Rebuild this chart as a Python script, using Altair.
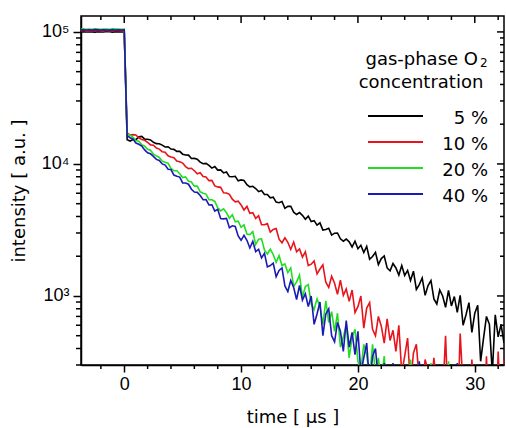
import altair as alt
import pandas as pd

# ---------------- data ----------------
SERIES = ["5 %", "10 %", "20 %", "40 %"]
COLORS = ["#000000", "#e8141c", "#22dd22", "#1a1ab4"]

T_START = -3.75   # first sample time (µs)
STEP = 0.25       # sampling step (µs)

# plateau before the pulse end (t = -3.75 ... 0.0)
PLATEAU_5 = [100000, 100500, 99800, 100300, 100100, 99600, 100400, 100000,
             99900, 100600, 100200, 99700, 100300, 100000, 100200, 99900]
PLATEAU_10 = [102000, 102400, 101800, 102300, 101900, 102500, 102100, 101800,
              102300, 102000, 101700, 102400, 102000, 102200, 101900, 102100]
PLATEAU_20 = [105000, 105400, 104800, 105300, 104900, 105500, 105100, 104800,
              105300, 105000, 104700, 105400, 105000, 105200, 104900, 105100]
PLATEAU_40 = [103500, 103900, 103300, 103800, 103400, 104000, 103600, 103300,
              103800, 103500, 103200, 103900, 103500, 103700, 103400, 103600]

# decay (t = 0.25 ... 32.5)
DECAY_5 = [
    15240, 14910, 15330, 15290, 16050, 16150, 15400, 15370,
    15210, 14590, 14250, 14240, 13880, 13440, 13500, 12970,
    12900, 12450, 12450, 11860, 11700, 11660, 10990, 11010,
    10880, 10320, 10040, 10100, 9760, 9300, 9560, 8980,
    9010, 8550, 8690, 8020, 8000, 8060, 7450, 7570,
    7490, 6960, 6710, 6770, 6510, 6170, 6300, 5880,
    5870, 5540, 5600, 5140, 5090, 5190, 4610, 4770,
    4780, 4310, 4140, 4280, 4080, 3810, 4020, 3660,
    3720, 3440, 3580, 3160, 3190, 3260, 2890, 2990,
    3000, 2710, 2600, 2700, 2570, 2350, 2600, 2280,
    2420, 2130, 2370, 1900, 1990, 2140, 1730, 1920,
    2010, 1630, 1550, 1760, 1630, 1440, 1700, 1430,
    1560, 1310, 1540, 1120, 1220, 1370, 1010, 1200,
    1310, 950, 870, 1110, 1000, 820, 1100, 840,
    990, 750, 1010, 600, 720, 890, 530, 740,
    850, 320, 480, 700, 610, 260, 720, 490,
    610, 440]
DECAY_10 = [
    17200, 16550, 16670, 16590, 15790, 15300, 15110, 14540,
    13950, 13880, 13190, 12950, 12380, 12260, 11540, 11300,
    11130, 10520, 10400, 10160, 9550, 9210, 9280, 8880,
    8420, 8590, 8020, 7970, 7470, 7510, 6820, 6700,
    6650, 6050, 6030, 5880, 5410, 5170, 5230, 4890,
    4480, 4770, 4230, 4280, 3870, 4050, 3460, 3460,
    3530, 3050, 3190, 3240, 2690, 2530, 2760, 2550,
    2250, 2560, 2160, 2270, 1970, 2160, 1700, 1740,
    1840, 1470, 1600, 1720, 1270, 1160, 1410, 1250,
    1030, 1320, 1010, 1130, 910, 1110, 750, 830,
    1000, 570, 810, 890, 560, 500, 700, 590,
    440, 670, 460, 550, 380, 600, 260, 350,
    480, 210, 370, 430, 230, 200, 330, 270,
    180, 340, 200, 270, 170, 500, 120, 165,
    230, 100, 520, 200, 110, 95, 330, 130,
    90, 160, 100, 350, 85, 140, 60, 380,
    120, 330]
DECAY_20 = [
    16800, 16560, 15890, 15040, 14840, 13980, 13620, 12890,
    12690, 11860, 11520, 11200, 10500, 10310, 10120, 9270,
    8870, 8880, 8430, 7880, 7980, 7390, 7290, 6790,
    6800, 6150, 6010, 5910, 5360, 5350, 5200, 4660,
    4410, 4570, 4270, 3880, 4120, 3650, 3690, 3310,
    3450, 2950, 2920, 3070, 2450, 2690, 2710, 2230,
    2080, 2260, 2060, 1800, 2020, 1700, 1750, 1500,
    1630, 1180, 1280, 1440, 980, 1180, 1220, 870,
    790, 950, 830, 610, 920, 630, 760, 540,
    740, 410, 490, 600, 340, 490, 560, 320,
    270, 430, 360, 240, 430, 260, 340, 220,
    350, 160, 210, 290, 130, 220, 250, 140,
    120, 330, 155, 100, 190, 115, 150, 95,
    310, 70, 95, 130, 55, 95, 320, 60,
    90, 60, 100, 70, 85, 55, 95, 65,
    80, 60, 90, 55, 75, 60, 85, 50,
    70, 60]
DECAY_40 = [
    16380, 15800, 15420, 14400, 14110, 13670, 12780, 12150,
    11930, 11400, 10820, 10630, 10000, 9810, 9110, 9070,
    8230, 8060, 7950, 7190, 7180, 7020, 6430, 6120,
    6090, 5760, 5360, 5370, 4890, 4910, 4400, 4530,
    3860, 3840, 3870, 3290, 3400, 3360, 2850, 2640,
    2880, 2640, 2310, 2590, 2170, 2260, 1940, 2100,
    1660, 1700, 1770, 1400, 1560, 1630, 1190, 1080,
    1310, 1160, 940, 1200, 930, 1040, 830, 1000,
    610, 730, 900, 500, 730, 800, 500, 450,
    630, 540, 380, 650, 410, 530, 360, 540,
    260, 340, 440, 210, 350, 400, 230, 200,
    310, 260, 180, 310, 190, 250, 170, 250,
    120, 150, 210, 100, 320, 180, 100, 90,
    140, 120, 80, 150, 90, 120, 75, 130,
    60, 310, 70, 100, 60, 90, 55, 85,
    60, 95, 50, 80, 60, 300, 55, 80,
    60, 75]

PLATEAUS = [PLATEAU_5, PLATEAU_10, PLATEAU_20, PLATEAU_40]
DECAYS = [DECAY_5, DECAY_10, DECAY_20, DECAY_40]

X_DOMAIN = [-3.7, 32.5]
Y_DOMAIN = [300, 132000]
X_MAJOR = [0, 10, 20, 30]
X_MINOR = [-2, 2, 4, 6, 8, 12, 14, 16, 18, 22, 24, 26, 28, 32]
Y_MAJOR = [1000, 10000, 100000]
Y_MAJOR_LABELS = ["10\u00b3", "10\u2074", "10\u2075"]
Y_MINOR = [300, 400, 500, 600, 700, 800, 900,
           2000, 3000, 4000, 5000, 6000, 7000, 8000, 9000,
           20000, 30000, 40000, 50000, 60000, 70000, 80000, 90000]

LEGEND_TITLE_1 = "gas-phase O"
LEGEND_TITLE_SUB = "2"
LEGEND_TITLE_2 = "concentration"

X_TITLE = "time [ \u00b5s ]"
Y_TITLE = "intensity [ a.u. ]"

# ---------------- chart ----------------
W, H = 423, 349
TEXT_FONT = "DejaVu Sans"
TICK_FONT = "Liberation Sans"

xscale = alt.Scale(domain=X_DOMAIN, nice=False, zero=False)
yscale = alt.Scale(type="log", domain=Y_DOMAIN, nice=False)

label_expr = " : ".join(
    f"datum.value == {v} ? '{l}'" for v, l in zip(Y_MAJOR, Y_MAJOR_LABELS)
) + " : ''"

xaxis = alt.Axis(values=X_MAJOR, format="d", tickSize=7, labelPadding=3,
                 titlePadding=15, labelFontSize=18, labelFont=TICK_FONT,
                 labelFlush=False)
yaxis = alt.Axis(values=Y_MAJOR, labelExpr=label_expr, tickSize=8,
                 labelPadding=4, titlePadding=13, labelFontSize=18,
                 labelFont=TICK_FONT)


def X(field):
    return alt.X(field, type="quantitative", scale=xscale, axis=xaxis, title=X_TITLE)


def Y(field):
    return alt.Y(field, type="quantitative", scale=yscale, axis=yaxis, title=Y_TITLE)


layers = []
for name, color, pl, dc in zip(SERIES, COLORS, PLATEAUS, DECAYS):
    times = [T_START + STEP * i for i in range(len(pl))] + \
            [STEP * (i + 1) for i in range(len(dc))]
    df = pd.DataFrame({"t": times, "I": pl + dc, "series": name})
    layers.append(
        alt.Chart(df).mark_line(clip=True, strokeWidth=1.6, color=color)
        .encode(x=X("t"), y=Y("I"))
    )


# mirror / minor ticks drawn through the same scales
def xticks(vals, y0, y1):
    return alt.Chart(pd.DataFrame({"v": vals})).mark_rule(
        color="black", strokeWidth=1.5).encode(
        x=X("v"), y=alt.value(y0), y2=alt.value(y1))


def yticks(vals, x0, x1):
    return alt.Chart(pd.DataFrame({"v": vals})).mark_rule(
        color="black", strokeWidth=1.5).encode(
        y=Y("v"), x=alt.value(x0), x2=alt.value(x1))


layers += [
    xticks(X_MINOR, H, H + 4),      # bottom minor (outward)
    xticks(X_MAJOR, 0, 7),          # top major (inward)
    xticks(X_MINOR, 0, 4),          # top minor (inward)
    yticks(Y_MINOR, 0, -5),         # left minor (outward)
    yticks(Y_MAJOR, W, W - 7),      # right major (inward)
    yticks(Y_MINOR, W, W - 4),      # right minor (inward)
]

# legend (drawn inside the plot)
one = pd.DataFrame({"k": [0]})
LEG_LINE_X = (287, 342)
LEG_ROW_Y = [100, 126, 152, 178]
LEG_LABEL_X = 407

layers.append(alt.Chart(one).mark_text(
    text=LEGEND_TITLE_1, font=TEXT_FONT, fontSize=18, align="right",
    baseline="alphabetic", color="black").encode(x=alt.value(397), y=alt.value(49)))
layers.append(alt.Chart(one).mark_text(
    text=LEGEND_TITLE_SUB, font=TEXT_FONT, fontSize=12, align="left",
    baseline="alphabetic", color="black").encode(x=alt.value(399), y=alt.value(51)))
layers.append(alt.Chart(one).mark_text(
    text=LEGEND_TITLE_2, font=TEXT_FONT, fontSize=18, align="center",
    baseline="alphabetic", color="black").encode(x=alt.value(340), y=alt.value(72)))

for name, color, ry in zip(SERIES, COLORS, LEG_ROW_Y):
    layers.append(alt.Chart(one).mark_rule(color=color, strokeWidth=2).encode(
        x=alt.value(LEG_LINE_X[0]), x2=alt.value(LEG_LINE_X[1]), y=alt.value(ry)))
    layers.append(alt.Chart(one).mark_text(
        text=name, font=TEXT_FONT, fontSize=18, align="right",
        baseline="alphabetic", color="black").encode(
        x=alt.value(LEG_LABEL_X), y=alt.value(ry + 8)))

chart = alt.layer(*layers).properties(
    width=W, height=H,
    padding={"left": 81, "top": 16, "right": 2, "bottom": 63},
    autosize=alt.AutoSizeParams(type="none"),
    background="white",
).configure_view(
    stroke="black", strokeWidth=1.5
).configure_axis(
    grid=False, domainColor="black", domainWidth=1.5, tickColor="black",
    tickWidth=1.5, labelColor="black", titleColor="black",
    titleFont=TEXT_FONT, titleFontSize=18, titleFontWeight="normal",
)

chart.save("out.html", embed_options={"renderer": "svg", "actions": False})
